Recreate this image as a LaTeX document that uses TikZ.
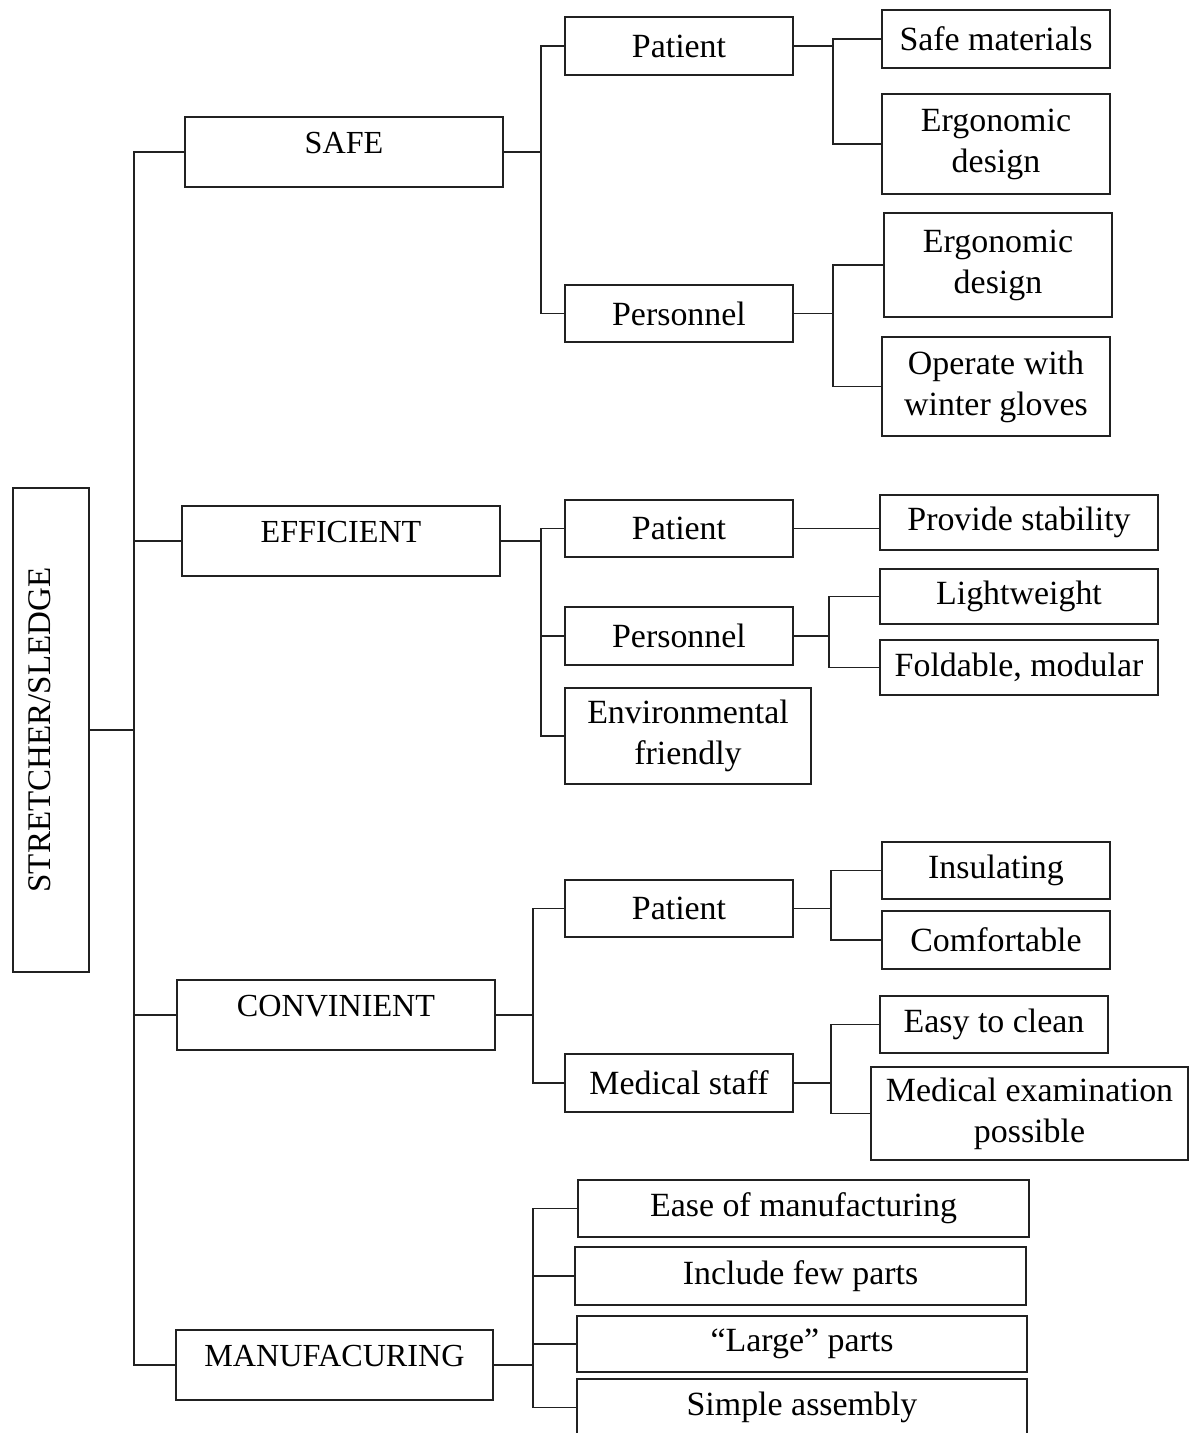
\documentclass[tikz,border=0pt]{standalone}
\usepackage{fontspec}
\setmainfont{Liberation Serif}
\usepackage{tikz}
\usetikzlibrary{positioning}

\tikzset{
  tbox/.style={draw=clin,line width=1.1pt,fill=white,shape=rectangle,inner sep=2pt,align=center},
  rootbox/.style={tbox,rotate=90,font=\fontsize{18.8}{22}\selectfont,text height=0.45cm,text depth=0.45cm},
  catbox/.style={tbox,minimum width=6.36cm,minimum height=1.40cm,font=\fontsize{18.3}{22}\selectfont,text height=0.45cm,text depth=0.38cm},
  subbox/.style={tbox,minimum width=4.56cm,minimum height=1.15cm,font=\fontsize{19.3}{23.3}\selectfont},
  leafbox/.style={tbox,minimum width=4.56cm,minimum height=1.15cm,font=\fontsize{19.3}{23.3}\selectfont},
  link/.style={draw=clin,line width=1.1pt}
}

\begin{document}
\begin{tikzpicture}[x=0.02cm,y=-0.02cm]
%
\useasboundingbox (0,0) rectangle (1188,1433);
%
\definecolor{clin}{rgb}{0.13,0.13,0.13}
%
\node[rootbox,minimum width=9.68cm,minimum height=1.52cm] (root) at (51,730) {STRETCHER/SLEDGE};
%
\node[catbox] (safe) at (344,152) {SAFE};
\node[catbox] (effi) at (341,541) {EFFICIENT};
\node[catbox] (conv) at (336,1015) {CONVINIENT};
\node[catbox,minimum width=6.34cm] (manu) at (334.5,1365) {MANUFACURING};
%
\node[subbox] (patS) at (679,46) {Patient};
\node[subbox] (perS) at (679,313.5) {Personnel};
\node[subbox] (patE) at (679,528.5) {Patient};
\node[subbox] (perE) at (679,636) {Personnel};
\node[subbox,minimum width=4.92cm,minimum height=1.92cm] (envE) at (688,736) {Environmental\\friendly};
\node[subbox] (patC) at (679,908.5) {Patient};
\node[subbox] (medC) at (679,1083) {Medical staff};
%
\node[leafbox] (matS) at (996,39) {Safe materials};
\node[leafbox,minimum height=2.00cm] (ergS) at (996,144) {Ergonomic\\design};
\node[leafbox,minimum height=2.08cm] (ergP) at (998,265) {Ergonomic\\design};
\node[leafbox,minimum height=1.98cm] (glvP) at (996,386.5) {Operate with\\winter gloves};
\node[leafbox,minimum width=5.56cm,minimum height=1.10cm] (stbE) at (1019,522.5) {Provide stability};
\node[leafbox,minimum width=5.56cm,minimum height=1.10cm] (lgtE) at (1019,596.5) {Lightweight};
\node[leafbox,minimum width=5.56cm,minimum height=1.10cm] (fldE) at (1019,667.5) {Foldable, modular};
\node[leafbox,minimum height=1.14cm] (insC) at (996,870.5) {Insulating};
\node[leafbox,minimum height=1.16cm] (cmfC) at (996,940) {Comfortable};
\node[leafbox,minimum height=1.14cm] (clnM) at (994,1024.5) {Easy to clean};
\node[leafbox,minimum width=6.34cm,minimum height=1.86cm] (exmM) at (1029.5,1113.5) {Medical examination\\possible};
\node[leafbox,minimum width=9.02cm,minimum height=1.14cm] (easM) at (803.5,1208.5) {Ease of manufacturing};
\node[leafbox,minimum width=9.02cm,minimum height=1.16cm] (fewM) at (800.5,1276) {Include few parts};
\node[leafbox,minimum width=9.00cm,minimum height=1.12cm] (lrgM) at (802,1344) {“Large” parts};
\node[leafbox,minimum width=9.00cm,minimum height=1.14cm] (asmM) at (802,1407.5) {Simple assembly};
%
% root is turned by 90 degrees, so its south side faces right
\foreach \c in {safe,effi,conv,manu} \draw[link] (root.south) -- ++(44,0) |- (\c.west);
%
\foreach \c in {patS,perS} \draw[link] (safe.east) -- ++(37,0) |- (\c.west);
\foreach \c in {patE,perE,envE} \draw[link] (effi.east) -- ++(40,0) |- (\c.west);
\foreach \c in {patC,medC} \draw[link] (conv.east) -- ++(37,0) |- (\c.west);
\foreach \c in {easM,fewM,lrgM,asmM} \draw[link] (manu.east) -- ++(39,0) |- (\c.west);
%
\foreach \c in {matS,ergS} \draw[link] (patS.east) -- ++(39,0) |- (\c.west);
\foreach \c in {ergP,glvP} \draw[link] (perS.east) -- ++(39,0) |- (\c.west);
\draw[link] (patE.east) -- (patE.east -| stbE.west);
\foreach \c in {lgtE,fldE} \draw[link] (perE.east) -- ++(35,0) |- (\c.west);
\foreach \c in {insC,cmfC} \draw[link] (patC.east) -- ++(37,0) |- (\c.west);
\foreach \c in {clnM,exmM} \draw[link] (medC.east) -- ++(37,0) |- (\c.west);
%
\end{tikzpicture}
\end{document}
